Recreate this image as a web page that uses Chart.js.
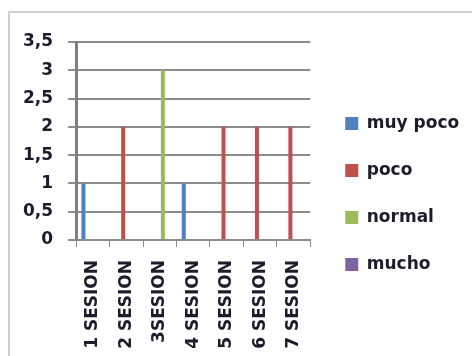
<!DOCTYPE html>
<html><head><meta charset="utf-8">
<script src="https://cdn.jsdelivr.net/npm/chart.js@4/dist/chart.umd.min.js"></script>
<style>
html,body{margin:0;padding:0;background:#fff;overflow:hidden;}
#frame{position:absolute;left:8px;top:11px;width:480px;height:360px;border:2px solid #d0d0d0;box-sizing:border-box;}
#wrap{position:absolute;left:0;top:0;width:472px;height:356px;}
</style></head><body>
<div id="frame"></div>
<div id="wrap"><canvas id="c" width="472" height="356"></canvas></div>
<script>
const categories = ["1 SESION","2 SESION","3SESION","4 SESION","5 SESION","6 SESION","7 SESION"];
const seriesNames = ["muy poco","poco","normal","mucho"];
const muyPoco = [1,0,0,1,0,0,0];
const poco    = [0,2,0,0,2,2,2];
const normal  = [0,0,3,0,0,0,0];
const mucho   = [0,0,0,0,0,0,0];
const yTicks = [0,0.5,1,1.5,2,2.5,3,3.5];
const colors = ["#4F81BD","#C0504D","#9BBB59","#8064A2"];

const font = {family:"'DejaVu Sans', sans-serif", size:17, weight:"bold"};
const textColor = '#1c1c2c';
const seriesData = [muyPoco, poco, normal, mucho];

const legendShift = {
  id:'legendShift',
  afterLayout(chart){
    const lg = chart.legend;
    if(!lg) return;
    lg.left = chart.chartArea.right + 5;
    lg.right = chart.width;
    lg.top -= 5; lg.bottom -= 5;
  }
};

new Chart(document.getElementById('c'), {
  type:'bar',
  data:{labels:categories, datasets: seriesNames.map((n,i)=>({label:n,data:seriesData[i],backgroundColor:colors[i],borderWidth:0,categoryPercentage:0.75,barPercentage:0.64}))},
  options:{
    responsive:false, animation:false,
    layout:{padding:{left:8,top:42,right:61,bottom:0}},
    plugins:{
      legend:{position:'right',labels:{boxWidth:13,boxHeight:13,padding:30,color:textColor,font:font}},
      tooltip:{enabled:false}
    },
    scales:{
      x:{grid:{drawOnChartArea:false,drawTicks:true,tickLength:7,color:'#8c8c8c',lineWidth:1},
         border:{color:'#8c8c8c',width:2},
         ticks:{color:textColor,font:font,minRotation:90,maxRotation:90,padding:13},
         afterFit:(ax)=>{ax.height=116;}},
      y:{min:0,max:3.5,
         afterBuildTicks:(ax)=>{ax.ticks=yTicks.map(v=>({value:v}));},
         grid:{color:'#8c8c8c',lineWidth:2,tickLength:8},
         border:{color:'#808080',width:3},
         ticks:{color:textColor,font:font,padding:15,callback:v=>String(v).replace('.',',')}}
    }
  },
  plugins:[legendShift]
});
</script></body></html>
